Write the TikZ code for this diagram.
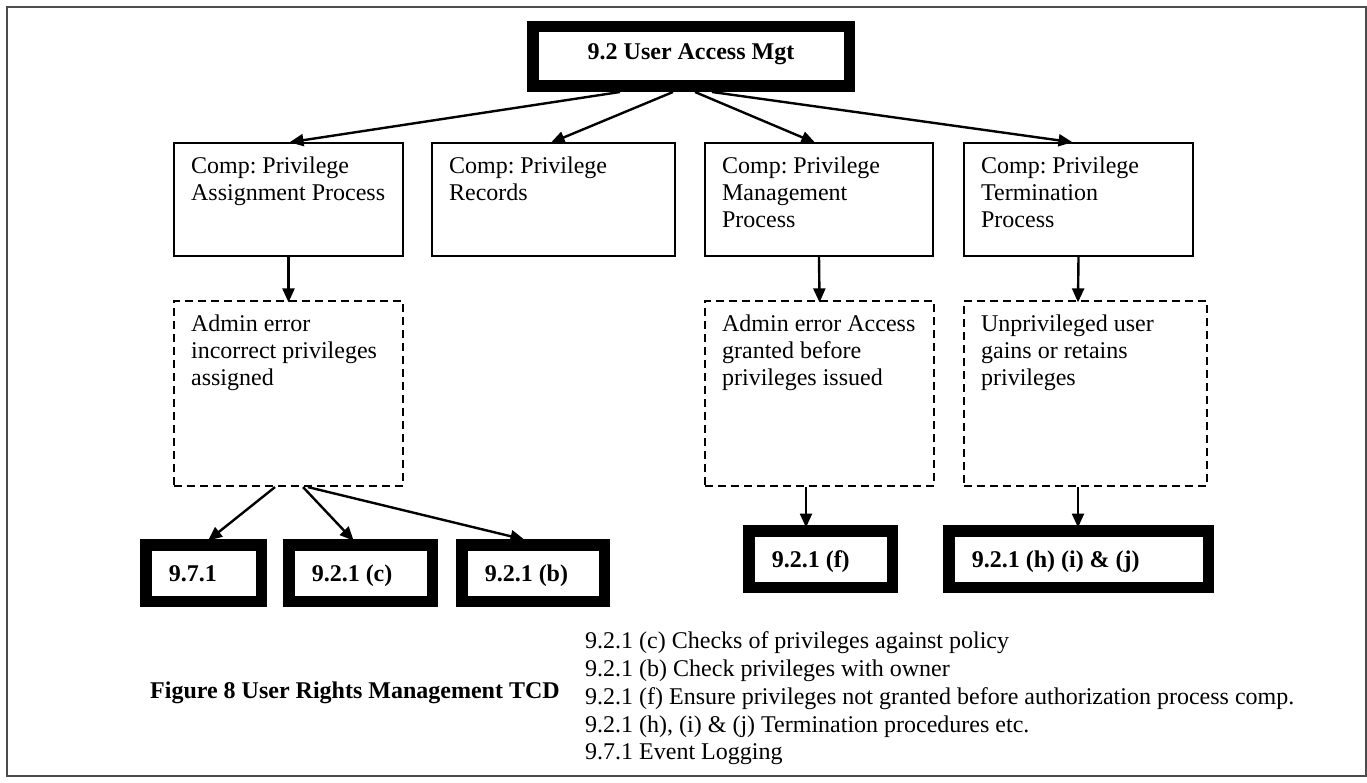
\documentclass[tikz,border=0pt]{standalone}
\usepackage{fontspec}
\setmainfont{Liberation Serif}
\usetikzlibrary{arrows.meta,calc}
\frenchspacing
\begin{document}
\begin{tikzpicture}[x=1pt,y=-1pt,
  txt/.style={font=\fontsize{24}{27}\selectfont, inner sep=0pt, align=left, anchor=north west},
  thinbox/.style={draw, line width=2.2pt, inner sep=0pt, minimum height=113pt},
  dashbox/.style={draw, line width=2.2pt, inner sep=0pt, dash pattern=on 8pt off 5pt, minimum height=185pt},
  heavybox/.style={draw, line width=11.5pt, inner xsep=23pt, inner ysep=0pt,
    font=\bfseries\fontsize{24}{27}\selectfont, align=flush left,
    text height=16pt, text depth=0pt, minimum height=56.5pt},
  link/.style={line width=2.4pt, shorten >=-2.5pt, -{Triangle[length=14pt,width=12pt]}},
]
\useasboundingbox (0,0) rectangle (1367,783);
\draw[line width=2pt, black!70] (7,7) rectangle (1366,776);

% root
\node[heavybox, align=flush center, text width=270.5pt, minimum width=316.5pt,
      minimum height=59.5pt, text depth=9pt] (top) at (691,56.5) {9.2 User Access Mgt};

% component boxes
\node[thinbox, minimum width=229pt] (b1) at (288.5,199.5) {};
\node[thinbox, minimum width=243pt] (b2) at (553.5,199.5) {};
\node[thinbox, minimum width=228pt] (b3) at (819,199.5) {};
\node[thinbox, minimum width=229pt] (b4) at (1078.5,199.5) {};
\node[txt] (b1t) at ($(b1.north west)+(18,15)$) {Comp: Privilege\\Assignment Process};
\node[txt] (b2t) at ($(b2.north west)+(18,15)$) {Comp: Privilege\\Records};
\node[txt] (b3t) at ($(b3.north west)+(18,15)$) {Comp: Privilege\\Management\\Process};
\node[txt] (b4t) at ($(b4.north west)+(18,15)$) {Comp: Privilege\\Termination\\Process};

% threat boxes
\node[dashbox, minimum width=229pt] (d1) at (288.5,393.5) {};
\node[dashbox, minimum width=229pt] (d3) at (819.5,393.5) {};
\node[dashbox, minimum width=243pt] (d4) at (1085.5,393.5) {};
\node[txt] (d1t) at ($(d1.north west)+(18,15)$) {Admin error\\incorrect privileges\\assigned};
\node[txt] (d3t) at ($(d3.north west)+(18,15)$) {Admin error Access\\granted before\\privileges issued};
\node[txt] (d4t) at ($(d4.north west)+(18,15)$) {Unprivileged user\\gains or retains\\privileges};

% controls
\node[heavybox, text width=69.5pt,  minimum width=115.5pt] (c971)  at (203.5,573) {9.7.1};
\node[heavybox, text width=97.5pt,  minimum width=143.5pt] (c921c) at (360.5,573) {9.2.1 (c)};
\node[heavybox, text width=96.5pt,  minimum width=142.5pt] (c921b) at (533,573)   {9.2.1 (b)};
\node[heavybox, text width=97.5pt,  minimum width=143.5pt] (c921f) at (820.5,559) {9.2.1 (f)};
\node[heavybox, text width=213.5pt, minimum width=259.5pt] (c921h) at (1078.5,559) {9.2.1 (h) (i) \& (j)};

% connectors
\draw[link] ($(top.south)+(-71,0)$) -- ($(b1.north)+(3.5,0)$);
\draw[link] ($(top.south)+(-18,0)$) -- ($(b2.north)+(-0.5,0)$);
\draw[link] ($(top.south)+(4,0)$)   -- ($(b3.north)+(-6,0)$);
\draw[link] ($(top.south)+(21,0)$)  -- ($(b4.north)+(-8.5,0)$);

\draw[link] (b1.south) -- (d1.north);
\draw[link] (b3.south) -- (d3.north);
\draw[link] (b4.south) -- ($(d4.north)+(-7.5,0)$);

\draw[link] ($(d1.south)+(-13.5,0)$) -- ($(c971.north)+(6.5,0)$);
\draw[link] ($(d1.south)+(14.5,0)$)  -- ($(c921c.north)+(-8.5,0)$);
\draw[link] ($(d1.south)+(19.5,0)$)  -- ($(c921b.north)+(-11,0)$);
\draw[link] ($(d3.south)+(-13.5,0)$) -- ($(c921f.north)+(-14.5,0)$);
\draw[link] ($(d4.south)+(-7.5,0)$)  -- ($(c921h.north)+(-0.5,0)$);

% caption and legend
\node[font=\bfseries\fontsize{24}{27}\selectfont, inner sep=0pt, anchor=base west] (cap) at (150,698)
  {Figure 8 User Rights Management TCD};
\node[font=\fontsize{24}{27.8}\selectfont, inner sep=0pt, align=left, anchor=north west] (legend) at (585,631.5)
  {9.2.1 (c) Checks of privileges against policy\\
   9.2.1 (b) Check privileges with owner\\
   9.2.1 (f) Ensure privileges not granted before authorization process comp.\\
   9.2.1 (h), (i) \& (j) Termination procedures etc.\\
   9.7.1 Event Logging};
\end{tikzpicture}
\end{document}
